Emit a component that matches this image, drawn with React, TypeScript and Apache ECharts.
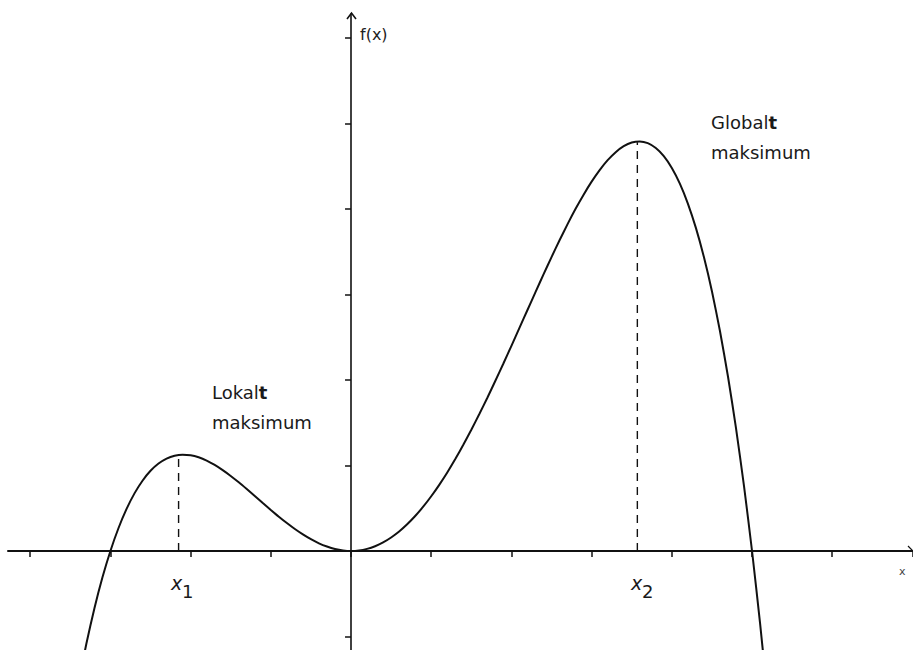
import React, { useEffect, useRef } from "react";
import * as echarts from "echarts";

// Curve samples (x in tick units, f(x) in tick units)
const curveX = [
  -3.4, -3.3, -3.2, -3.1, -3.0, -2.9, -2.8, -2.7, -2.6, -2.5, -2.4, -2.3, -2.2, -2.1, -2.0, -1.9, -1.8, -1.7, -1.6, -1.5,
  -1.4, -1.3, -1.2, -1.1, -1.0, -0.9, -0.8, -0.7, -0.6, -0.5, -0.4, -0.3, -0.2, -0.1, 0, 0.1, 0.2, 0.3, 0.4, 0.5,
  0.6, 0.7, 0.8, 0.9, 1.0, 1.1, 1.2, 1.3, 1.4, 1.5, 1.6, 1.7, 1.8, 1.9, 2.0, 2.1, 2.2, 2.3, 2.4, 2.5,
  2.6, 2.7, 2.8, 2.9, 3.0, 3.1, 3.2, 3.3, 3.4, 3.5, 3.6, 3.7, 3.8, 3.9, 4.0, 4.1, 4.2, 4.3, 4.4, 4.5,
  4.6, 4.7, 4.8, 4.9, 5.0, 5.1, 5.2,
];
const curveY = [
  -1.554, -1.085, -0.672, -0.311, 0, 0.266, 0.489, 0.674, 0.822, 0.938, 1.023, 1.081, 1.115, 1.127, 1.12, 1.096, 1.058, 1.007, 0.946, 0.878,
  0.803, 0.724, 0.643, 0.561, 0.48, 0.401, 0.327, 0.257, 0.194, 0.138, 0.09, 0.052, 0.023, 0.006, 0, 0.006, 0.025, 0.056, 0.1, 0.158,
  0.228, 0.312, 0.409, 0.518, 0.64, 0.774, 0.919, 1.076, 1.242, 1.418, 1.602, 1.793, 1.991, 2.193, 2.4, 2.609, 2.819, 3.028, 3.235, 3.438,
  3.634, 3.823, 4.002, 4.168, 4.32, 4.455, 4.571, 4.665, 4.735, 4.778, 4.79, 4.77, 4.713, 4.618, 4.48, 4.297, 4.064, 3.779, 3.438, 3.038,
  2.573, 2.041, 1.438, 0.759, 0, -0.843, -1.774,
];

// Maxima markers (dashed drop lines)
const maxX = [-2.15, 3.57];
const maxY = [1.12, 4.78];
const maxNames = ["1", "2"];

// Axis ticks
const xTicks = [-4, -3, -2, -1, 0, 1, 2, 3, 4, 5, 6, 7];
const yTicks = [-1, 1, 2, 3, 4, 5, 6];
const xRange = [-4.277, 7.007];
const yRange = [-1.158, 6.281];

const FONT = "DejaVu Sans";
const INK = "#111";

export default function App() {
  const ref = useRef<HTMLDivElement>(null);
  useEffect(() => {
    if (!ref.current) return;
    const chart = echarts.init(ref.current, undefined, { renderer: "svg" });
    const curve = curveX.map((x, i) => [x, curveY[i]]);
    const dropSeries = maxX.map((x, i) => ({
      type: "line",
      data: [
        [x, 0],
        [x, maxY[i]],
      ],
      showSymbol: false,
      silent: true,
      lineStyle: { color: INK, width: 1.4, type: [8, 6] },
    }));
    const label = (x: number, y: number, first: string, bold: string) => ({
      type: "text",
      x,
      y,
      style: {
        text: bold ? `{a|${first}}{b|${bold}}` : `{a|${first}}`,
        verticalAlign: "middle",
        rich: {
          a: { fontFamily: FONT, fontSize: 18, fill: "#1a1a1a", lineHeight: 22 },
          b: { fontFamily: FONT, fontSize: 18, fontWeight: "bold", fill: "#1a1a1a", lineHeight: 22 },
        },
      },
    });
    const sub = (x: number, name: string) => [
      {
        type: "text",
        x,
        y: 583,
        style: { text: "x", fontFamily: FONT, fontSize: 19, fontStyle: "italic", fill: "#1a1a1a", verticalAlign: "middle" },
      },
      {
        type: "text",
        x: x + 11,
        y: 591,
        style: { text: name, fontFamily: FONT, fontSize: 18, fill: "#1a1a1a", verticalAlign: "middle" },
      },
    ];
    chart.setOption({
      animation: false,
      grid: { left: 8, right: 0, top: 14, bottom: 0, containLabel: false, outerBoundsMode: "none" },
      xAxis: {
        type: "value",
        min: xRange[0],
        max: xRange[1],
        axisLine: { show: true, onZero: true, lineStyle: { color: INK, width: 2 } },
        axisTick: { show: true, length: 6, customValues: xTicks, lineStyle: { color: INK, width: 1.5 } },
        axisLabel: { show: false },
        splitLine: { show: false },
      },
      yAxis: {
        type: "value",
        min: yRange[0],
        max: yRange[1],
        axisLine: { show: true, onZero: true, lineStyle: { color: INK, width: 1.6 } },
        axisTick: { show: true, length: 6, customValues: yTicks, lineStyle: { color: INK, width: 1.5 } },
        axisLabel: { show: false },
        splitLine: { show: false },
      },
      series: [
        {
          type: "line",
          data: curve,
          smooth: 0.2,
          showSymbol: false,
          silent: true,
          clip: true,
          lineStyle: { color: INK, width: 2 },
        },
        ...dropSeries,
      ],
      graphic: [
        { type: "polyline", shape: { points: [[347, 19], [351.5, 13], [356, 19]] }, style: { stroke: INK, lineWidth: 1.6, fill: "none" } },
        { type: "polyline", shape: { points: [[908, 546], [913, 551]] }, style: { stroke: INK, lineWidth: 1.2, fill: "none" } },
        { type: "text", x: 360, y: 34, style: { text: "f(x)", fontFamily: FONT, fontSize: 16, fill: "#222", verticalAlign: "middle" } },
        { type: "text", x: 899, y: 571, style: { text: "x", fontFamily: FONT, fontSize: 11, fill: "#444", verticalAlign: "middle" } },
        label(212, 392, "Lokal", "t"),
        label(212, 422, "maksimum", ""),
        label(711, 122, "Global", "t"),
        label(711, 152, "maksimum", ""),
        ...sub(171, maxNames[0]),
        ...sub(631, maxNames[1]),
      ],
    });
    return () => chart.dispose();
  }, []);
  return <div ref={ref} style={{ position: "fixed", left: 0, top: 0, width: 913, height: 650, background: "#fff" }} />;
}
